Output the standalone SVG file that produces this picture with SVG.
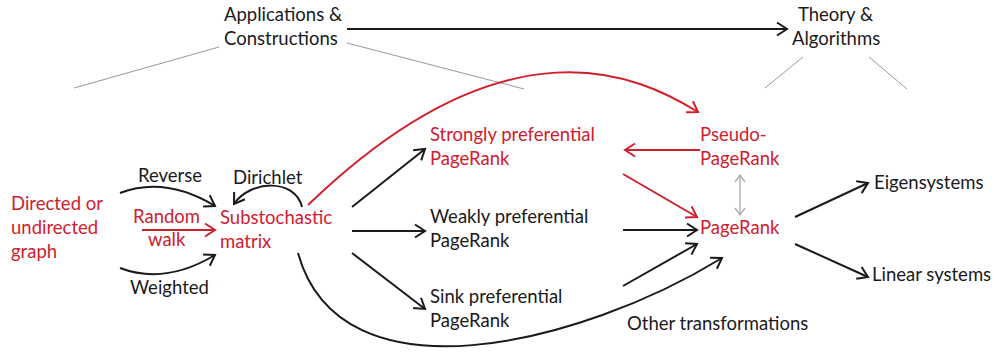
<svg xmlns="http://www.w3.org/2000/svg" width="994" height="355" viewBox="0 0 994 355">
<defs>
<marker id="ab" markerUnits="userSpaceOnUse" markerWidth="16" markerHeight="16" viewBox="-12 -8 14 16" refX="0" refY="0" orient="auto">
<path d="M-10,-6.5 L0,0 L-10,6.5" fill="none" stroke="#1a1a1a" stroke-width="2"/>
</marker>
<marker id="ar" markerUnits="userSpaceOnUse" markerWidth="16" markerHeight="16" viewBox="-12 -8 14 16" refX="0" refY="0" orient="auto">
<path d="M-10,-6.5 L0,0 L-10,6.5" fill="none" stroke="#d0202e" stroke-width="2"/>
</marker>
<marker id="ag" markerUnits="userSpaceOnUse" markerWidth="16" markerHeight="16" viewBox="-12 -8 14 16" refX="0" refY="0" orient="auto-start-reverse">
<path d="M-7,-5 L0,0 L-7,5" fill="none" stroke="#aaaaaa" stroke-width="1.3"/>
</marker>
</defs>
<style>
text{font-family:Lato,"Liberation Sans",sans-serif;font-size:18.5px}
.k{fill:#1a1a1a}
.r{fill:#d0202e}
.cb{fill:none;stroke:#1a1a1a;stroke-width:2;marker-end:url(#ab)}
.cr{fill:none;stroke:#d0202e;stroke-width:2;marker-end:url(#ar)}
.g{fill:none;stroke:#999999;stroke-width:1}
</style>
<g id="connectors">
<line class="g" x1="219" y1="47" x2="74" y2="88"/>
<line class="g" x1="347" y1="43" x2="524" y2="89"/>
<line class="g" x1="803" y1="57" x2="765" y2="88"/>
<line class="g" x1="869" y1="57" x2="907" y2="89"/>
<line class="cb" x1="347" y1="29" x2="787" y2="29"/>
<path class="cb" d="M120,193 Q165,176 215,206"/>
<path class="cb" d="M120,268 Q165,285 215,255"/>
<line class="cr" x1="142" y1="230" x2="215" y2="230"/>
<path class="cb" d="M302,207 C295,178 250,180 234,204"/>
<path class="cr" d="M308,205 C508,12 640,76 698,112"/>
<line class="cb" x1="352" y1="207" x2="425" y2="149"/>
<line class="cb" x1="352" y1="231" x2="425" y2="231"/>
<line class="cb" x1="352" y1="253" x2="425" y2="309"/>
<path class="cb" d="M298,253 C340,405 580,345 722,258"/>
<line class="cr" x1="700" y1="150" x2="625" y2="150"/>
<line class="cr" x1="623" y1="174" x2="697" y2="217"/>
<line class="cb" x1="623" y1="230" x2="697" y2="230"/>
<line class="cb" x1="623" y1="286" x2="697" y2="244"/>
<line x1="740" y1="175" x2="740" y2="215" stroke="#aaaaaa" stroke-width="1.3" marker-start="url(#ag)" marker-end="url(#ag)"/>
<line class="cb" x1="795" y1="217" x2="868" y2="183"/>
<line class="cb" x1="795" y1="244" x2="868" y2="277"/>
</g>
<g id="applications"><text class="k" x="224" y="21">Applications &amp;</text><text class="k" x="224" y="45">Constructions</text></g>
<g id="theory"><text class="k" x="798" y="21">Theory &amp;</text><text class="k" x="792" y="45">Algorithms</text></g>
<g id="graph"><text class="r" x="11" y="210">Directed or</text><text class="r" x="11" y="234">undirected</text><text class="r" x="11" y="258">graph</text></g>
<g id="reverse"><text class="k" x="138" y="182">Reverse</text></g>
<g id="randomwalk"><text class="r" x="133" y="223">Random</text><text class="r" x="148" y="246">walk</text></g>
<g id="weighted"><text class="k" x="130" y="294">Weighted</text></g>
<g id="dirichlet"><text class="k" x="233" y="184">Dirichlet</text></g>
<g id="substochastic"><text class="r" x="220" y="224">Substochastic</text><text class="r" x="220" y="248">matrix</text></g>
<g id="strongly"><text class="r" x="430" y="141">Strongly preferential</text><text class="r" x="430" y="165">PageRank</text></g>
<g id="weakly"><text class="k" x="430" y="223">Weakly preferential</text><text class="k" x="430" y="247">PageRank</text></g>
<g id="sink"><text class="k" x="430" y="303">Sink preferential</text><text class="k" x="430" y="327">PageRank</text></g>
<g id="pseudo"><text class="r" x="700" y="141">Pseudo-</text><text class="r" x="700" y="165">PageRank</text></g>
<g id="pagerank"><text class="r" x="700" y="234">PageRank</text></g>
<g id="eigen"><text class="k" x="874" y="189">Eigensystems</text></g>
<g id="linear"><text class="k" x="872" y="281">Linear systems</text></g>
<g id="other"><text class="k" x="627" y="330">Other transformations</text></g>
</svg>
